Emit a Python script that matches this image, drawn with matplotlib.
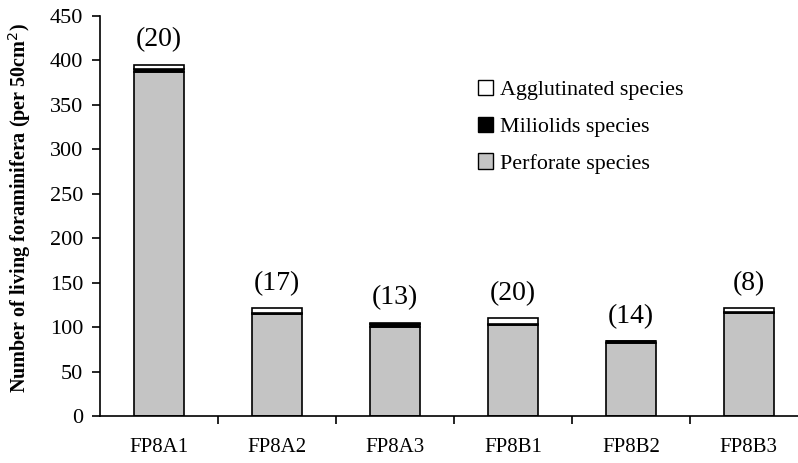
import numpy as np
import matplotlib
matplotlib.use("Agg")
import matplotlib.pyplot as plt
from matplotlib.patches import Patch

plt.rcParams['font.family'] = ['Liberation Serif', 'DejaVu Serif']

stations = ["FP8A1", "FP8A2", "FP8A3", "FP8B1", "FP8B2", "FP8B3"]
perforate = [387, 115, 100, 102, 82, 116]
miliolids = [3, 1, 4, 1, 2, 1]
agglutinated = [5, 5, 1, 7, 0, 4]
species_count = ["(20)", "(17)", "(13)", "(20)", "(14)", "(8)"]

fig = plt.figure(figsize=(7.98, 4.63), dpi=100)
ax = fig.add_axes([0.1253, 0.1015, 0.887, 0.864])

x = np.arange(len(stations))
w = 0.42
bottom2 = np.array(perforate) + np.array(miliolids)
ax.bar(x, perforate, w, color="#c4c4c4", edgecolor="black", linewidth=1.2)
ax.bar(x, miliolids, w, bottom=perforate, color="black", edgecolor="black", linewidth=1.2)
ax.bar(x, agglutinated, w, bottom=bottom2, color="white", edgecolor="black", linewidth=1.2)

totals = bottom2 + np.array(agglutinated)
for i, t in enumerate(totals):
    ax.text(x[i], t + 14, species_count[i], ha="center", va="bottom", fontsize=20)

ax.set_xlim(-0.5, len(stations) - 0.5)
ax.set_ylim(0, 450)
ax.set_yticks(range(0, 451, 50))
ax.set_xticks(x)
ax.set_xticklabels(stations, fontsize=15)
ax.set_xticks(np.arange(0.5, len(stations) - 0.5, 1), minor=True)
ax.tick_params(axis="x", which="major", length=0, pad=16)
ax.tick_params(axis="x", which="minor", length=6, width=1.2, direction="out")
ax.tick_params(axis="y", labelsize=16, length=6, width=1.2, direction="out", pad=6)
for s in ["top", "right"]:
    ax.spines[s].set_visible(False)
for s in ["left", "bottom"]:
    ax.spines[s].set_linewidth(1.2)

ax.set_ylabel("Number of living foraminifera (per 50cm$^2$)", fontsize=14.5, fontweight="bold")
ax.yaxis.set_label_coords(-0.094, 0.52)

handles = [
    Patch(facecolor="white", edgecolor="black", label="Agglutinated species"),
    Patch(facecolor="black", edgecolor="black", label="Miliolids species"),
    Patch(facecolor="#c4c4c4", edgecolor="black", label="Perforate species"),
]
ax.legend(handles=handles, loc="upper left", bbox_to_anchor=(0.506, 0.89), frameon=False,
          fontsize=15.8, handlelength=0.7, handleheight=0.7, handletextpad=0.3, labelspacing=0.75)

plt.savefig("out.png", dpi=100)
